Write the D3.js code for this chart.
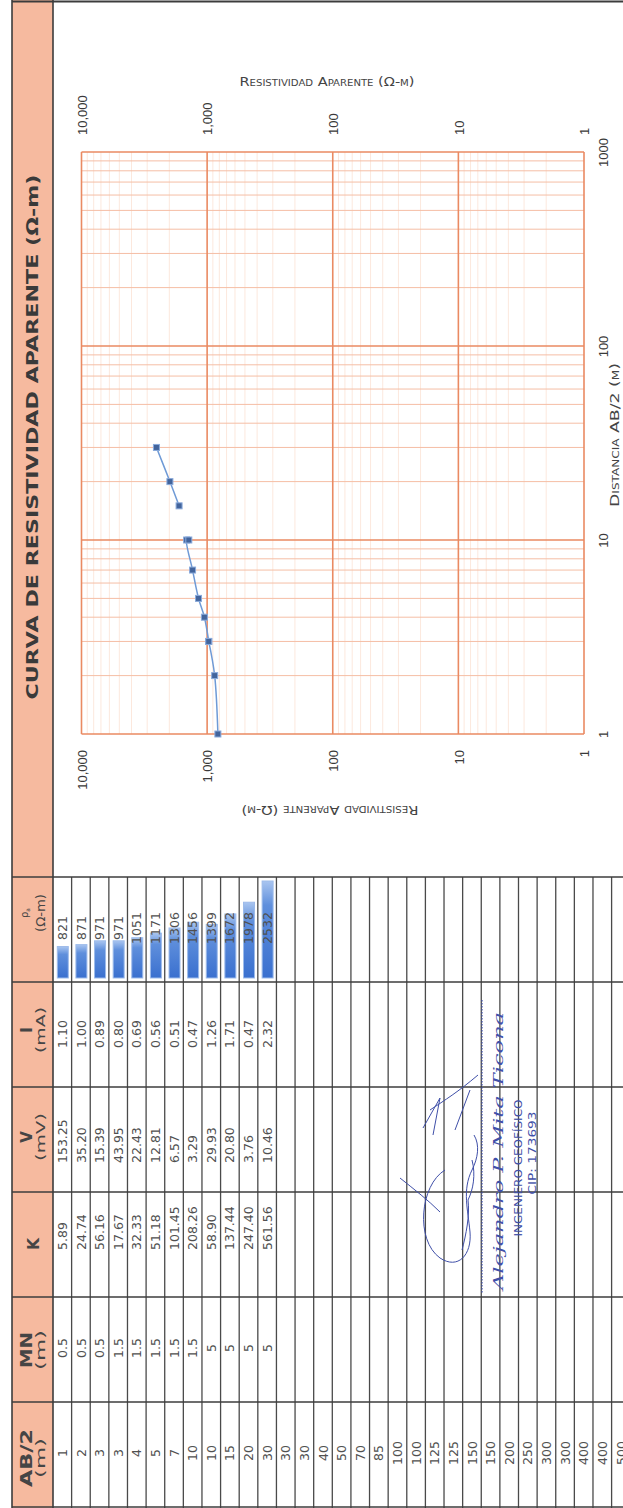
<!DOCTYPE html>
<html>
<head>
<meta charset="utf-8">
<script src="https://cdn.jsdelivr.net/npm/d3@7"></script>
<style>
    body { margin: 0; background: #fff; }
    svg { display: block; font-family: "DejaVu Sans", sans-serif; }
</style>
</head>
<body>
<div id="sheet"></div>
<script>
// table rows (AB/2 filled for every row, readings only for the first 12)
const abMedios = [1, 2, 3, 3, 4, 5, 7, 10, 10, 15, 20, 30, 30, 30, 40, 50, 70, 85, 100, 100, 125, 125, 150, 150, 200, 250, 300, 300, 400, 400, 500];
const mnValues = [0.5, 0.5, 0.5, 1.5, 1.5, 1.5, 1.5, 1.5, 5, 5, 5, 5];
const kValues = [5.89, 24.74, 56.16, 17.67, 32.33, 51.18, 101.45, 208.26, 58.90, 137.44, 247.40, 561.56];
const vValues = [153.25, 35.20, 15.39, 43.95, 22.43, 12.81, 6.57, 3.29, 29.93, 20.80, 3.76, 10.46];
const iValues = [1.10, 1.00, 0.89, 0.80, 0.69, 0.56, 0.51, 0.47, 1.26, 1.71, 0.47, 2.32];
const rhoValues = [821, 871, 971, 971, 1051, 1171, 1306, 1456, 1399, 1672, 1978, 2532];
// which branch of the sounding curve each reading belongs to
const tramo = [1, 1, 1, 1, 1, 1, 1, 1, 1, 2, 2, 2];

// chart ticks
const rhoTicks = [10000, 1000, 100, 10, 1];
const distTicks = [1, 10, 100, 1000];

const W = 623, H = 1508;
const headX0 = 12, headX1 = 53;
const rowW = 18.62;
const bandLines = [877, 982, 1087, 1192, 1297, 1402];
const ink = "#454545";
const blueInk = "#3f4fa8";

const svg = d3.select("#sheet")
    .append("svg")
    .attr("width", W)
    .attr("height", H);

svg.append("rect").attr("width", W).attr("height", H).attr("fill", "#fff");

// vertical text helper (reads bottom to top)
function vText(g, x, y, txt) {
    return g.append("text")
        .attr("transform", `translate(${x},${y}) rotate(-90)`)
        .text(txt);
}

drawTable();
drawChart();
drawSignature();

function drawTable() {
    const g = svg.append("g");

    // salmon header strip
    g.append("rect")
        .attr("x", headX0).attr("y", 0)
        .attr("width", headX1 - headX0).attr("height", H)
        .attr("fill", "#F6BA9F");

    const defs = svg.append("defs");
    const grad = defs.append("linearGradient")
        .attr("id", "barGrad")
        .attr("x1", 0).attr("y1", 1).attr("x2", 0).attr("y2", 0);
    grad.append("stop").attr("offset", "0%").attr("stop-color", "#3a70cf");
    grad.append("stop").attr("offset", "75%").attr("stop-color", "#5f8fdc");
    grad.append("stop").attr("offset", "100%").attr("stop-color", "#a9c5f0");

    // data bars in the rho column
    const barScale = d3.scaleLinear()
        .domain([0, d3.max(rhoValues)])
        .range([0, 97]);

    g.selectAll("rect.bar")
        .data(rhoValues)
        .enter()
        .append("rect")
        .attr("class", "bar")
        .attr("x", (d, i) => headX1 + i * rowW + 4.3)
        .attr("y", d => 978 - barScale(d))
        .attr("width", 11)
        .attr("height", d => barScale(d))
        .attr("fill", "url(#barGrad)")
        .attr("stroke", "#9dbbea")
        .attr("stroke-width", 1);

    // grid lines
    for (let k = 1; k <= 30; k++) {
        g.append("line")
            .attr("x1", headX1 + k * rowW).attr("x2", headX1 + k * rowW)
            .attr("y1", bandLines[0]).attr("y2", H)
            .attr("stroke", "#4a4a4a").attr("stroke-width", 1.3);
    }
    bandLines.forEach(y => {
        g.append("line")
            .attr("x1", headX0).attr("x2", W)
            .attr("y1", y).attr("y2", y)
            .attr("stroke", "#3c3c3c").attr("stroke-width", 1.7);
    });
    g.append("line").attr("x1", headX0).attr("x2", headX0).attr("y1", 0).attr("y2", H)
        .attr("stroke", "#3c3c3c").attr("stroke-width", 1.6);
    g.append("line").attr("x1", headX1).attr("x2", headX1).attr("y1", 0).attr("y2", H)
        .attr("stroke", "#3c3c3c").attr("stroke-width", 1.6);
    g.append("line").attr("x1", headX0).attr("x2", W).attr("y1", 1.5).attr("y2", 1.5)
        .attr("stroke", "#3c3c3c").attr("stroke-width", 2);
    g.append("line").attr("x1", headX0).attr("x2", W).attr("y1", H - 1).attr("y2", H - 1)
        .attr("stroke", "#3c3c3c").attr("stroke-width", 1.6);

    // column headers
    const heads = [
        { top: "AB/2", sub: "(m)", y: 1458, lenTop: 58, lenSub: 40 },
        { top: "MN", sub: "(m)", y: 1350, lenTop: 36, lenSub: 40 },
        { top: "K", sub: null, y: 1244 },
        { top: "V", sub: "(mV)", y: 1137, lenSub: 48 },
        { top: "I", sub: "(mA)", y: 1030, lenSub: 46 },
        { top: "ρ", sub: "(Ω-m)", y: 913, lenSub: 38 }
    ];
    heads.forEach(h => {
        if (h.sub) {
            const t = vText(g, 31.5, h.y, h.top)
                .attr("text-anchor", "middle")
                .attr("fill", ink);
            if (h.top === "ρ") {
                t.attr("font-size", 10).attr("transform", `translate(28,${h.y}) rotate(-90)`);
                t.append("tspan").attr("font-size", 6).attr("dy", 2).text("a");
            } else {
                t.attr("font-weight", "bold").attr("font-size", 15);
            }
            if (h.lenTop) t.attr("textLength", h.lenTop).attr("lengthAdjust", "spacingAndGlyphs");
            vText(g, 45, h.y, h.sub)
                .attr("text-anchor", "middle")
                .attr("font-size", 12)
                .attr("fill", ink)
                .attr("textLength", h.lenSub).attr("lengthAdjust", "spacingAndGlyphs");
        } else {
            vText(g, 39, h.y, h.top)
                .attr("text-anchor", "middle")
                .attr("font-weight", "bold")
                .attr("font-size", 15.5)
                .attr("fill", ink);
        }
    });

    // chart header
    vText(g, 38, 437, "CURVA DE RESISTIVIDAD APARENTE (Ω-m)")
        .attr("text-anchor", "middle")
        .attr("font-weight", "bold")
        .attr("font-size", 15.5)
        .attr("fill", "#3a3a3a")
        .attr("textLength", 525)
        .attr("lengthAdjust", "spacingAndGlyphs");

    // cell values
    const f2 = d3.format(".2f");
    const cols = [
        { data: abMedios, fmt: d => d, y: 1453, anchor: "middle" },
        { data: mnValues, fmt: d => d, y: 1348, anchor: "middle" },
        { data: kValues, fmt: f2, y: 1250, anchor: "start" },
        { data: vValues, fmt: f2, y: 1163, anchor: "start" },
        { data: iValues, fmt: f2, y: 1034, anchor: "middle" },
        { data: rhoValues, fmt: d => d, y: 928, anchor: "middle" }
    ];
    cols.forEach(c => {
        c.data.forEach((d, i) => {
            const cx = headX1 + (i + 0.5) * rowW;
            vText(g, cx + 4.6, c.y, c.fmt(d))
                .attr("text-anchor", c.anchor)
                .attr("font-size", 12.5)
                .attr("fill", "#505050");
        });
    });
}

function drawChart() {
    const xRes = d3.scaleLog().domain([10000, 1]).range([81.5, 584]);
    const yDist = d3.scaleLog().domain([1, 1000]).range([734, 152]);

    const g = svg.append("g");
    const [left, right] = xRes.range();
    const [bottom, top] = yDist.range();

    const isMajor = d => Math.abs(Math.log10(d) - Math.round(Math.log10(d))) < 1e-9;

    // faint resistivity minors
    g.append("g").selectAll("line")
        .data(xRes.ticks().filter(d => !isMajor(d)))
        .enter().append("line")
        .attr("x1", d => xRes(d)).attr("x2", d => xRes(d))
        .attr("y1", top).attr("y2", bottom)
        .attr("stroke", "#FCE8DD").attr("stroke-width", 1);

    // distance minors
    g.append("g").selectAll("line")
        .data(yDist.ticks().filter(d => !isMajor(d)))
        .enter().append("line")
        .attr("x1", left).attr("x2", right)
        .attr("y1", d => yDist(d)).attr("y2", d => yDist(d))
        .attr("stroke", "#F5BEA5").attr("stroke-width", 1);

    // decades
    g.append("g").selectAll("line")
        .data(rhoTicks)
        .enter().append("line")
        .attr("x1", d => xRes(d)).attr("x2", d => xRes(d))
        .attr("y1", top).attr("y2", bottom)
        .attr("stroke", "#EA8A62").attr("stroke-width", 1.6);
    g.append("g").selectAll("line")
        .data(distTicks)
        .enter().append("line")
        .attr("x1", left).attr("x2", right)
        .attr("y1", d => yDist(d)).attr("y2", d => yDist(d))
        .attr("stroke", "#EA8A62").attr("stroke-width", 1.6);

    const fmt = d3.format(",");

    // resistivity labels above the grid
    const axTop = g.append("g")
        .attr("transform", `translate(0,${top})`)
        .call(d3.axisTop(xRes).tickValues(rhoTicks).tickFormat(fmt).tickSize(0));
    axTop.select(".domain").remove();
    axTop.selectAll("text")
        .attr("transform", "rotate(-90)")
        .attr("x", 17).attr("y", 0).attr("dy", "0.36em")
        .style("text-anchor", "start")
        .attr("font-size", 13).attr("font-family", null).attr("fill", "#3a3a3a");

    // resistivity labels below the grid
    const axBot = g.append("g")
        .attr("transform", `translate(0,${bottom})`)
        .call(d3.axisBottom(xRes).tickValues(rhoTicks).tickFormat(fmt).tickSize(0));
    axBot.select(".domain").remove();
    axBot.selectAll("text")
        .attr("transform", "rotate(-90)")
        .attr("x", -16).attr("y", 0).attr("dy", "0.36em")
        .style("text-anchor", "end")
        .attr("font-size", 13).attr("font-family", null).attr("fill", "#3a3a3a");

    // distance labels
    const axRight = g.append("g")
        .attr("transform", `translate(${right},0)`)
        .call(d3.axisRight(yDist).tickValues(distTicks).tickFormat(d3.format("d")).tickSize(0));
    axRight.select(".domain").remove();
    axRight.selectAll("text")
        .attr("transform", "rotate(-90)")
        .attr("x", 0).attr("y", 24).attr("dy", 0)
        .style("text-anchor", "middle")
        .attr("font-size", 13).attr("font-family", null).attr("fill", "#3a3a3a");

    // axis titles
    g.append("text")
        .attr("x", 327).attr("y", 86)
        .attr("text-anchor", "middle")
        .attr("font-size", 11.5)
        .style("font-variant", "small-caps")
        .attr("fill", "#444")
        .attr("textLength", 175).attr("lengthAdjust", "spacingAndGlyphs")
        .text("Resistividad Aparente (Ω-m)");
    g.append("text")
        .attr("transform", "translate(330,806) rotate(180)")
        .attr("text-anchor", "middle")
        .attr("font-size", 11.5)
        .style("font-variant", "small-caps")
        .attr("fill", "#444")
        .attr("textLength", 177).attr("lengthAdjust", "spacingAndGlyphs")
        .text("Resistividad Aparente (Ω-m)");
    g.append("text")
        .attr("transform", "translate(619,435) rotate(-90)")
        .attr("text-anchor", "middle")
        .attr("font-size", 11.5)
        .style("font-variant", "small-caps")
        .attr("fill", "#444")
        .attr("textLength", 144).attr("lengthAdjust", "spacingAndGlyphs")
        .text("Distancia AB/2 (m)");

    // sounding curve
    const puntos = rhoValues.map((r, i) => ({ ab: abMedios[i], rho: r, tramo: tramo[i] }));
    const line = d3.line()
        .x(d => xRes(d.rho))
        .y(d => yDist(d.ab))
        .curve(d3.curveCatmullRom);

    d3.groups(puntos, d => d.tramo).forEach(([, pts]) => {
        g.append("path")
            .attr("d", line(pts))
            .attr("fill", "none")
            .attr("stroke", "#6f9ad6")
            .attr("stroke-width", 1.5);
    });

    g.append("g").selectAll("rect")
        .data(puntos)
        .enter().append("rect")
        .attr("x", d => xRes(d.rho) - 3)
        .attr("y", d => yDist(d.ab) - 3)
        .attr("width", 6).attr("height", 6)
        .attr("fill", "#42649c")
        .attr("stroke", "#8aaadb")
        .attr("stroke-width", 1);
}

function drawSignature() {
    const g = svg.append("g");

    g.append("line")
        .attr("x1", 482).attr("x2", 482)
        .attr("y1", 1000).attr("y2", 1293)
        .attr("stroke", blueInk).attr("stroke-width", 1.2)
        .attr("stroke-dasharray", "1.5,1.5");

    const strokes = [
        "M400,1178 C415,1190 428,1200 440,1212",
        "M445,1170 C420,1185 415,1240 440,1258 C458,1270 472,1255 470,1232 C468,1210 462,1190 472,1170 C478,1158 480,1145 474,1135",
        "M423,1128 L440,1098 L433,1135",
        "M462,1250 C466,1235 470,1215 468,1200 C473,1190 476,1175 472,1160",
        "M430,1110 C445,1100 458,1092 478,1075",
        "M455,1130 L470,1090"
    ];
    strokes.forEach(s => {
        g.append("path")
            .attr("d", s)
            .attr("fill", "none")
            .attr("stroke", blueInk)
            .attr("stroke-width", 1);
    });

    vText(g, 503, 1290, "Alejandro P. Mita Ticona")
        .attr("font-family", "DejaVu Serif")
        .attr("font-style", "italic")
        .attr("font-size", 12)
        .attr("fill", blueInk)
        .attr("textLength", 278).attr("lengthAdjust", "spacingAndGlyphs");
    vText(g, 522, 1168, "INGENIERO GEOFÍSICO")
        .attr("text-anchor", "middle")
        .attr("font-size", 11)
        .attr("fill", blueInk)
        .attr("textLength", 137).attr("lengthAdjust", "spacingAndGlyphs");
    vText(g, 536, 1153, "CIP: 173693")
        .attr("text-anchor", "middle")
        .attr("font-size", 11)
        .attr("fill", blueInk)
        .attr("textLength", 83).attr("lengthAdjust", "spacingAndGlyphs");
}
</script>
</body>
</html>
